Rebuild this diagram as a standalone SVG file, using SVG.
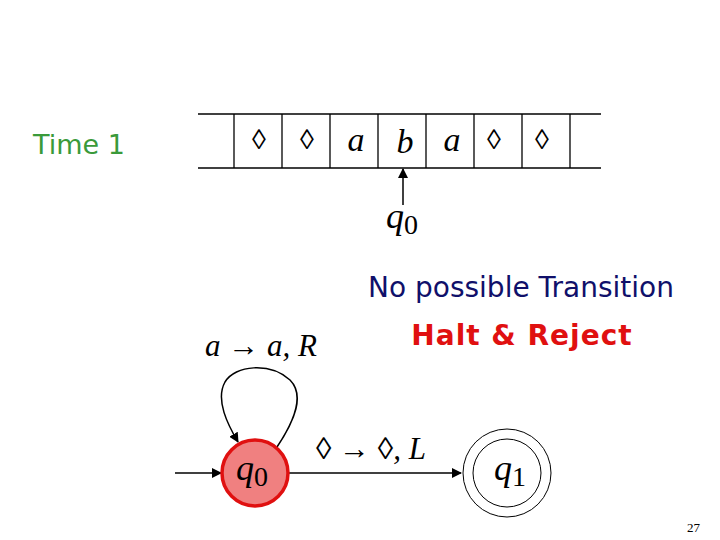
<svg xmlns="http://www.w3.org/2000/svg" width="720" height="540" viewBox="0 0 720 540">
<style>
.m{font-family:"Liberation Serif",serif;font-style:italic}
.s{font-family:"Liberation Serif",serif}
.l{stroke:#000;stroke-width:1.5;fill:none}
.c{font-family:"Comic Sans MS","DejaVu Sans",sans-serif}
</style>
<defs><marker id="ah" markerWidth="10" markerHeight="10" refX="9" refY="5" orient="auto" markerUnits="userSpaceOnUse"><path d="M0,0 L10,5 L0,10 z"/></marker></defs>
<rect width="720" height="540" fill="#fff"/>
<text x="33" y="154" class="c" font-size="27" fill="#3a9a3a">Time 1</text>
<g id="tape" stroke="#000" stroke-width="1.3">
<line x1="198" y1="114" x2="601" y2="114"/><line x1="198" y1="168" x2="601" y2="168"/>
<line x1="234" y1="114" x2="234" y2="168"/><line x1="282" y1="114" x2="282" y2="168"/><line x1="330" y1="114" x2="330" y2="168"/><line x1="378" y1="114" x2="378" y2="168"/><line x1="426" y1="114" x2="426" y2="168"/><line x1="474" y1="114" x2="474" y2="168"/><line x1="522" y1="114" x2="522" y2="168"/><line x1="570" y1="114" x2="570" y2="168"/>
</g>
<g font-size="28" text-anchor="middle">
<text x="259" y="149" class="s">◊</text><text x="307" y="149" class="s">◊</text>
<text x="356" y="151" class="m" font-size="34">a</text><text x="405" y="153" class="m" font-size="34">b</text><text x="452" y="151" class="m" font-size="34">a</text>
<text x="494" y="149" class="s">◊</text><text x="542" y="149" class="s">◊</text>
</g>
<line x1="403" y1="205" x2="403" y2="169" class="l" marker-end="url(#ah)"/>
<text x="386" y="228" class="m" font-size="36">q<tspan font-style="normal" font-size="28" dy="6">0</tspan></text>
<text x="521" y="297" class="c" font-size="28" text-anchor="middle" fill="#10106a">No possible Transition</text>
<text x="522" y="345" class="c" font-size="28" text-anchor="middle" fill="#e01010" font-weight="bold" letter-spacing="1">Halt &amp; Reject</text>
<g id="edges">
<line x1="175" y1="473" x2="221" y2="473" class="l" marker-end="url(#ah)"/>
<line x1="289" y1="473" x2="461" y2="473" class="l" marker-end="url(#ah)"/>
<path d="M277,447 C295,420 305,395 290,380 C270,362 235,365 225,382 C215,400 228,425 238,442" class="l" marker-end="url(#ah)"/>
</g>
<text x="205" y="356" class="m" font-size="31">a <tspan font-style="normal">→</tspan> a, R</text>
<text x="316" y="459" class="m" font-size="31"><tspan font-style="normal">◊ → ◊</tspan>, L</text>
<g id="q0"><circle cx="255" cy="473" r="33" fill="#f08080" stroke="#e01010" stroke-width="3.5"/>
<text x="236" y="480" class="m" font-size="36">q<tspan font-style="normal" font-size="28" dy="6">0</tspan></text></g>
<g id="q1"><circle cx="507" cy="473" r="44" fill="#fff" stroke="#000" stroke-width="1"/><circle cx="507" cy="473" r="34" fill="none" stroke="#000" stroke-width="1"/>
<text x="494" y="480" class="m" font-size="36">q<tspan font-style="normal" font-size="28" dy="6">1</tspan></text></g>
<text x="700" y="532" class="s" font-size="13" text-anchor="end">27</text>
</svg>
